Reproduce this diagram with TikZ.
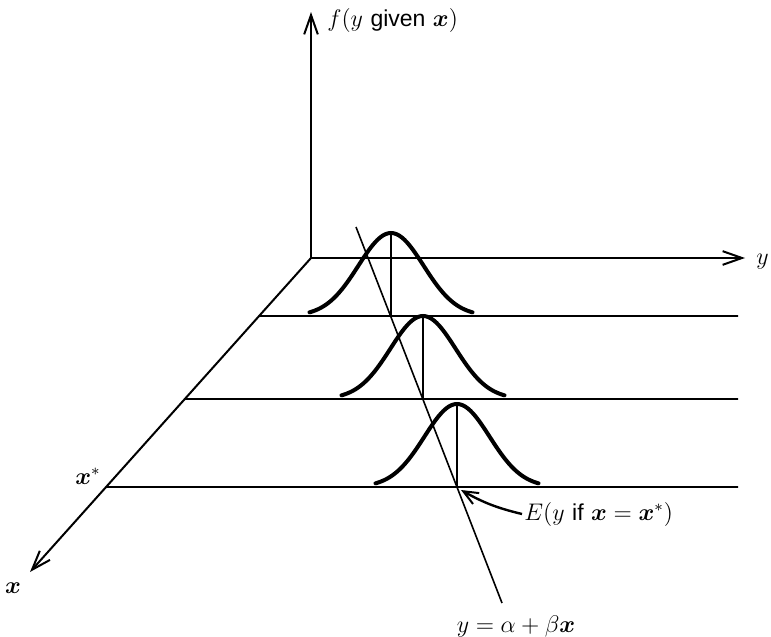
\documentclass[tikz,border=0pt]{standalone}
\usepackage{amsmath,amssymb,bm}
\usepackage{fontspec}
\setsansfont{Liberation Sans}
\usepackage{tikz}
\usetikzlibrary{arrows.meta,calc}
\tikzset{
  axis/.style={line width=1pt, -{Straight Barb[length=3.4mm,width=2.4mm,line width=1pt]}},
  grid/.style={line width=0.8pt},
  bell/.style={line width=2pt, line cap=round},
  meanline/.style={line width=0.7pt},
  regline/.style={line width=0.8pt},
  lbl/.style={font=\fontsize{11.5}{14}\selectfont, inner sep=1pt},
  pointer/.style={line width=1.2pt, -{Straight Barb[length=2.6mm,width=2.2mm,line width=1pt]}},
}
\newcommand{\bx}{\bm{x}}

\begin{document}
\begin{tikzpicture}[x=0.5pt,y=-0.5pt]
\useasboundingbox (0,0) rectangle (771,637);

% ---------------- axes -----------------------------------------------------
\coordinate (O) at (311,258);
\coordinate (ftip) at (311,12);
\coordinate (ytip) at (745,258);
\coordinate (xtip) at (30,572);
\draw[axis] (O) -- (ftip);
\draw[axis] (O) -- (ytip);
\draw[axis] (O) -- (xtip);
\node[lbl, anchor=west] at (325,20) (flbl) {$f(y\ \textsf{given}\ \bx)$};
\node[lbl, anchor=west] at (754,262) (ylbl) {$y$};
\node[lbl] at (13,588) (xlbl) {$\bx$};

% ---------------- slices at fixed x ---------------------------------------
\foreach \yy/\name in {316/a, 399/b, 487/c}{
  \coordinate (\name L) at ($(O)!{(\yy-258)/314}!(xtip)$);
  \coordinate (\name R) at (738,\yy);
  \draw[grid] (\name L) -- (\name R);
}
\node[lbl] at (88,476) (xstar) {$\bx^{*}$};

% ---------------- conditional densities ------------------------------------
\foreach \cx/\by in {391/316, 423/399, 457/487}{
  \draw[bell] plot[domain=-2.5:2.5, samples=61, smooth]
    ({\cx+32.6*\x}, {\by-83*exp(-\x*\x/2)});
  \draw[meanline] (\cx,\by-83) -- (\cx,\by);
}

% ---------------- regression line ------------------------------------------
\coordinate (rtop) at (356,227);
\coordinate (rbot) at (502,603);
\coordinate (Ex) at (457,487);
\draw[regline] (rtop) -- (rbot);
\node[lbl] at (516,626) (reglbl) {$y = \alpha + \beta\bx$};

\node[lbl, anchor=west] at (522,514) (elbl)
  {$E(y\ \textsf{if}\ \bx = \bx^{*})$};
\draw[pointer] (elbl.west) to[bend left=8] ($(Ex)+(4,3)$);
\end{tikzpicture}
\end{document}
